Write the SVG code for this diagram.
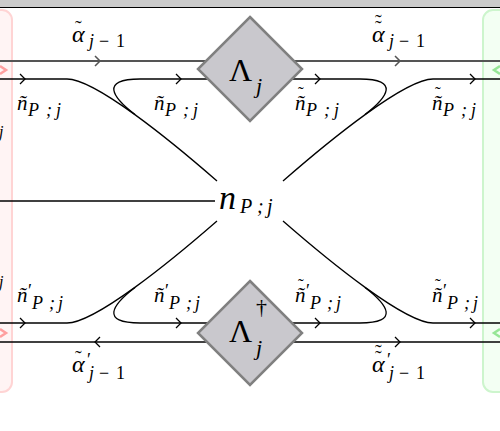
<svg xmlns="http://www.w3.org/2000/svg" xmlns:xlink="http://www.w3.org/1999/xlink" width="500" height="431" viewBox="0 0 500 431" font-family="'Liberation Serif', 'DejaVu Serif', serif">
<style>
.m{font-family:'Liberation Serif','DejaVu Serif',serif;font-style:italic;fill:#000}
.r{font-family:'Liberation Serif','DejaVu Serif',serif;font-style:normal;fill:#000}
.ln{fill:none;stroke:#000;stroke-width:1.3}
.thk{fill:none;stroke:#555;stroke-width:2.2}
.ar{fill:none;stroke:#000;stroke-width:1.3}
.art{fill:none;stroke:#555;stroke-width:1.5}
.dia{fill:#c9c8cd;stroke:#808080;stroke-width:2.5}
</style>
<defs>
<path id="chev" d="M-5,-5 L0,0 L-5,5"/>
</defs>
<rect width="500" height="431" fill="#fff"/>
<g id="topbar">
<rect x="0" y="0" width="500" height="7" fill="#cbcbcb"/>
<line x1="0" y1="7.5" x2="500" y2="7.5" stroke="#000" stroke-width="1"/>
</g>
<g id="leftbox">
<rect x="-30" y="10" width="42" height="382" rx="10" fill="#fff4f4" stroke="#ffd4d4" stroke-width="2"/>
<text class="m" x="-1" y="137" font-size="16">j</text>
<text class="m" x="-1" y="287" font-size="16">j</text>
</g>
<g id="rightbox">
<rect x="483" y="10" width="42" height="382" rx="10" fill="#f3fff3" stroke="#cdf5cd" stroke-width="2"/>
</g>
<g id="connectors">
<line class="thk" x1="0" y1="61" x2="500" y2="61"/>
<line class="ln" x1="0" y1="79" x2="67" y2="79"/>
<line class="ln" x1="140" y1="79" x2="360" y2="79"/>
<line class="ln" x1="433" y1="79" x2="500" y2="79"/>
<line class="ln" x1="0" y1="342" x2="500" y2="342"/>
<line class="ln" x1="0" y1="323" x2="67" y2="323"/>
<line class="ln" x1="140" y1="323" x2="360" y2="323"/>
<line class="ln" x1="433" y1="323" x2="500" y2="323"/>
<line class="ln" x1="0" y1="201" x2="215" y2="201"/>
<path class="ln" d="M67,79 C95,79 170,140 217,181"/>
<path class="ln" d="M140,79 C100,79 112,97 135,114.6"/>
<path class="ln" d="M433,79 C405,79 330,140 283,181"/>
<path class="ln" d="M360,79 C400,79 388,97 365,114.6"/>
<path class="ln" d="M67,323 C95,323 170,262 217,221"/>
<path class="ln" d="M140,323 C100,323 112,305 135,287.4"/>
<path class="ln" d="M433,323 C405,323 330,262 283,221"/>
<path class="ln" d="M360,323 C400,323 388,305 365,287.4"/>
<use xlink:href="#chev" class="art" transform="translate(100,61)"/>
<use xlink:href="#chev" class="art" transform="translate(400,61)"/>
<use xlink:href="#chev" class="ar" transform="translate(25,79)"/>
<use xlink:href="#chev" class="ar" transform="translate(181,79)"/>
<use xlink:href="#chev" class="ar" transform="translate(320,79)"/>
<use xlink:href="#chev" class="ar" transform="translate(475,79)"/>
<use xlink:href="#chev" class="ar" transform="translate(25,323)"/>
<use xlink:href="#chev" class="ar" transform="translate(181,323)"/>
<use xlink:href="#chev" class="ar" transform="translate(320,323)"/>
<use xlink:href="#chev" class="ar" transform="translate(475,323)"/>
<use xlink:href="#chev" class="ar" transform="translate(95,342) rotate(180)"/>
<use xlink:href="#chev" class="ar" transform="translate(400,342)"/>
<path d="M0,66 L6,70 L0,74" fill="none" stroke="#ff8a8a" stroke-width="2.5" opacity="0.8"/>
<path d="M0,329 L6,333 L0,337" fill="none" stroke="#ff8a8a" stroke-width="2.5" opacity="0.8"/>
<path d="M500,66 L494,70 L500,74" fill="none" stroke="#7ee07e" stroke-width="2.5" opacity="0.8"/>
<path d="M500,329 L494,333 L500,337" fill="none" stroke="#7ee07e" stroke-width="2.5" opacity="0.8"/>
</g>
<g id="lambda">
<polygon class="dia" points="250,17 302,69 250,121 198,69"/>
<text class="r" x="229" y="81" font-size="32">Λ</text>
<text class="m" x="256" y="93" font-size="22">j</text>
</g>
<g id="lambda-dagger">
<polygon class="dia" points="250,281 302,333 250,385 198,333"/>
<text class="r" x="229" y="342" font-size="32">Λ</text>
<text class="r" x="256" y="314" font-size="22">†</text>
<text class="m" x="256" y="355" font-size="22">j</text>
</g>
<g id="center">
<text class="m" font-size="34"><tspan x="219" y="209">n</tspan><tspan x="240" y="213" font-size="20">P</tspan><tspan x="257" font-size="20">;</tspan><tspan x="267" font-size="20">j</tspan></text>
</g>
<g id="labels">
<text class="m" font-size="24"><tspan x="72" y="42">α</tspan><tspan class="r" x="75" y="35" font-size="20">˜</tspan><tspan x="89" y="47" font-size="18">j</tspan><tspan class="r" x="99" font-size="18">−</tspan><tspan class="r" x="116" font-size="18">1</tspan></text>
<text class="m" font-size="24"><tspan x="372" y="42">α</tspan><tspan class="r" x="375" y="35" font-size="20">˜</tspan><tspan class="r" x="375" y="29" font-size="20">˜</tspan><tspan x="389" y="47" font-size="18">j</tspan><tspan class="r" x="399" font-size="18">−</tspan><tspan class="r" x="416" font-size="18">1</tspan></text>
<text class="m" font-size="21"><tspan x="17" y="110">ñ</tspan><tspan x="28" y="116" font-size="18">P</tspan><tspan x="46" font-size="18">;</tspan><tspan x="56" font-size="18">j</tspan></text>
<text class="m" font-size="21"><tspan x="154" y="110">ñ</tspan><tspan x="165" y="116" font-size="18">P</tspan><tspan x="183" font-size="18">;</tspan><tspan x="193" font-size="18">j</tspan></text>
<text class="m" font-size="21"><tspan x="295" y="110">ñ</tspan><tspan class="r" x="298" y="98" font-size="17">˜</tspan><tspan x="306" y="116" font-size="18">P</tspan><tspan x="324" font-size="18">;</tspan><tspan x="334" font-size="18">j</tspan></text>
<text class="m" font-size="21"><tspan x="432" y="110">ñ</tspan><tspan class="r" x="435" y="98" font-size="17">˜</tspan><tspan x="443" y="116" font-size="18">P</tspan><tspan x="461" font-size="18">;</tspan><tspan x="471" font-size="18">j</tspan></text>
<text class="m" font-size="21"><tspan x="17" y="302">ñ</tspan><tspan class="r" x="28" y="297" font-size="18">′</tspan><tspan x="32" y="309" font-size="18">P</tspan><tspan x="49" font-size="18">;</tspan><tspan x="58" font-size="18">j</tspan></text>
<text class="m" font-size="21"><tspan x="154" y="302">ñ</tspan><tspan class="r" x="165" y="297" font-size="18">′</tspan><tspan x="169" y="309" font-size="18">P</tspan><tspan x="186" font-size="18">;</tspan><tspan x="195" font-size="18">j</tspan></text>
<text class="m" font-size="21"><tspan x="295" y="302">ñ</tspan><tspan class="r" x="298" y="290" font-size="17">˜</tspan><tspan class="r" x="306" y="297" font-size="18">′</tspan><tspan x="310" y="309" font-size="18">P</tspan><tspan x="327" font-size="18">;</tspan><tspan x="336" font-size="18">j</tspan></text>
<text class="m" font-size="21"><tspan x="432" y="302">ñ</tspan><tspan class="r" x="435" y="290" font-size="17">˜</tspan><tspan class="r" x="443" y="297" font-size="18">′</tspan><tspan x="447" y="309" font-size="18">P</tspan><tspan x="464" font-size="18">;</tspan><tspan x="473" font-size="18">j</tspan></text>
<text class="m" font-size="24"><tspan x="72" y="372">α</tspan><tspan class="r" x="75" y="365" font-size="20">˜</tspan><tspan class="r" x="87" y="366" font-size="18">′</tspan><tspan x="89" y="379" font-size="18">j</tspan><tspan class="r" x="99" font-size="18">−</tspan><tspan class="r" x="116" font-size="18">1</tspan></text>
<text class="m" font-size="24"><tspan x="372" y="372">α</tspan><tspan class="r" x="375" y="365" font-size="20">˜</tspan><tspan class="r" x="375" y="359" font-size="20">˜</tspan><tspan class="r" x="387" y="366" font-size="18">′</tspan><tspan x="389" y="379" font-size="18">j</tspan><tspan class="r" x="399" font-size="18">−</tspan><tspan class="r" x="416" font-size="18">1</tspan></text>
</g>
</svg>
